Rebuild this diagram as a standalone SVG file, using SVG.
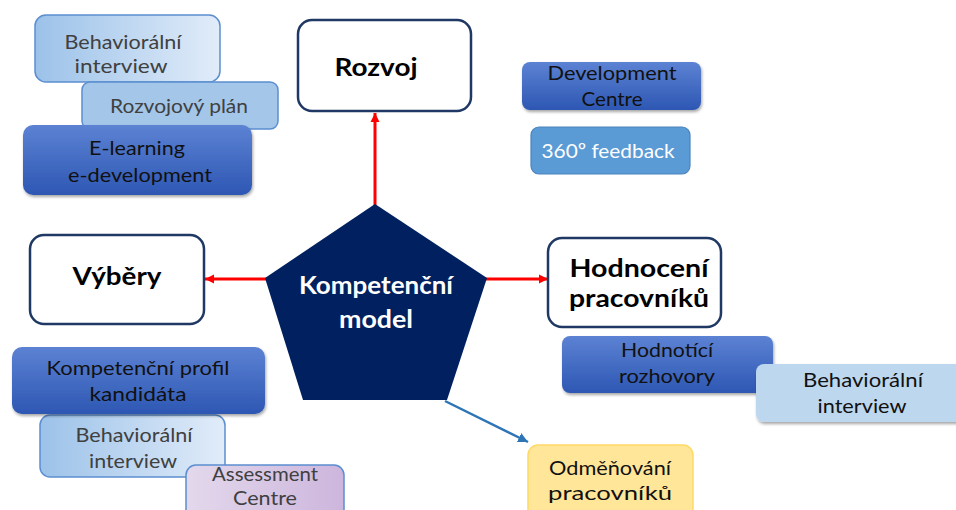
<svg xmlns="http://www.w3.org/2000/svg" width="956" height="510" viewBox="0 0 956 510">
<defs>
<style>
.t{font-family:Lato,"Liberation Sans",sans-serif;font-size:20px;fill:#111;text-anchor:middle}
.g{fill:#404040}
.w{fill:#fff}
.b{font-family:Lato,"Liberation Sans",sans-serif;font-size:24px;font-weight:bold;fill:#000;text-anchor:middle}
.pw{fill:#fff}
.wb{fill:#fff;stroke:#1F3864;stroke-width:2.5}
.db{fill:url(#gBlue);filter:url(#sh)}
.red{stroke:#FF0000;stroke-width:3;fill:none;marker-end:url(#aRed)}
.blu{stroke:#2E75B6;stroke-width:2.5;fill:none;marker-end:url(#aBlue)}
</style>
<linearGradient id="gBlue" x1="0" y1="0" x2="0" y2="1">
<stop offset="0" stop-color="#5C82D3"/><stop offset="1" stop-color="#2D57B3"/>
</linearGradient>
<linearGradient id="gLight" x1="0" y1="0" x2="1" y2="0">
<stop offset="0" stop-color="#9CC2E9"/><stop offset="1" stop-color="#E1ECF9"/>
</linearGradient>
<linearGradient id="gLav" x1="0" y1="0" x2="1" y2="0">
<stop offset="0" stop-color="#E3D8EC"/><stop offset="1" stop-color="#CDB6DD"/>
</linearGradient>
<filter id="sh" x="-10%" y="-10%" width="120%" height="130%">
<feDropShadow dx="1" dy="2" stdDeviation="1.5" flood-color="#000" flood-opacity="0.35"/>
</filter>
<marker id="aRed" viewBox="0 0 10 10" refX="10" refY="5" markerWidth="9" markerHeight="10" markerUnits="userSpaceOnUse" orient="auto">
<path d="M0,0 L10,5 L0,10 z" fill="#FF0000"/>
</marker>
<marker id="aBlue" viewBox="0 0 10 10" refX="10" refY="5" markerWidth="10" markerHeight="10" markerUnits="userSpaceOnUse" orient="auto">
<path d="M0,0 L10,5 L0,10 z" fill="#2E75B6"/>
</marker>
</defs>
<rect width="956" height="510" fill="#fff"/>

<g id="connectors">
<line class="red" x1="375" y1="206" x2="375" y2="113"/>
<line class="red" x1="266" y1="279" x2="205" y2="279"/>
<line class="red" x1="486" y1="279" x2="548" y2="279"/>
<line class="blu" x1="445" y1="401" x2="528" y2="442"/>
</g>

<g id="behavioralni-tl">
<rect x="35" y="15" width="185" height="67" rx="11" fill="url(#gLight)" stroke="#5B8ED0" stroke-width="1.5"/>
<text class="t g" x="123" y="49" textLength="117" lengthAdjust="spacingAndGlyphs">Behaviorální</text>
<text class="t g" x="121" y="73" textLength="93" lengthAdjust="spacingAndGlyphs">interview</text>
</g>
<g id="rozvojovy-plan">
<rect x="82" y="82" width="196" height="47" rx="8" fill="#A3C6E9" stroke="#5B8ED0" stroke-width="1.5"/>
<text class="t g" x="179" y="113" textLength="138" lengthAdjust="spacingAndGlyphs">Rozvojový plán</text>
</g>
<g id="e-learning">
<rect class="db" x="23" y="125" width="229" height="70" rx="10"/>
<text class="t" x="137" y="155" textLength="96" lengthAdjust="spacingAndGlyphs">E-learning</text>
<text class="t" x="140" y="182" textLength="144" lengthAdjust="spacingAndGlyphs">e-development</text>
</g>

<g id="rozvoj">
<rect class="wb" x="298" y="20" width="173" height="91" rx="14"/>
<text class="b" x="376" y="76" textLength="83" lengthAdjust="spacingAndGlyphs">Rozvoj</text>
</g>

<g id="development-centre">
<rect class="db" x="522" y="62" width="179" height="48" rx="8"/>
<text class="t" x="612" y="80" textLength="129" lengthAdjust="spacingAndGlyphs">Development</text>
<text class="t" x="612" y="106" textLength="61" lengthAdjust="spacingAndGlyphs">Centre</text>
</g>
<g id="feedback-360">
<rect x="531" y="127" width="159" height="47" rx="8" fill="#5B9BD5" stroke="#4A84BE" stroke-width="1.2"/>
<text class="t w" x="608" y="158" textLength="133" lengthAdjust="spacingAndGlyphs">360º feedback</text>
</g>

<g id="vybery">
<rect class="wb" x="30" y="235" width="174" height="89" rx="14"/>
<text class="b" x="117" y="285" textLength="89" lengthAdjust="spacingAndGlyphs">Výběry</text>
</g>

<g id="kompetencni-model">
<polygon points="375,204 487,278 447,400 303,400 265,278" fill="#002060"/>
<text class="b pw" x="376" y="294" textLength="154" lengthAdjust="spacingAndGlyphs">Kompetenční</text>
<text class="b pw" x="376" y="328" textLength="74" lengthAdjust="spacingAndGlyphs">model</text>
</g>

<g id="hodnoceni">
<rect class="wb" x="548" y="238" width="173" height="89" rx="14"/>
<text class="b" x="639" y="277" textLength="139" lengthAdjust="spacingAndGlyphs">Hodnocení</text>
<text class="b" x="639" y="307" textLength="140" lengthAdjust="spacingAndGlyphs">pracovníků</text>
</g>
<g id="hodnotici-rozhovory">
<rect class="db" x="562" y="336" width="211" height="57" rx="8"/>
<text class="t" x="667" y="357" textLength="92" lengthAdjust="spacingAndGlyphs">Hodnotící</text>
<text class="t" x="667" y="383" textLength="96" lengthAdjust="spacingAndGlyphs">rozhovory</text>
</g>
<g id="behavioralni-r">
<rect x="756" y="364" width="210" height="58" rx="8" fill="#BDD7EE" filter="url(#sh)"/>
<text class="t" x="863" y="387" textLength="120" lengthAdjust="spacingAndGlyphs">Behaviorální</text>
<text class="t" x="862" y="413" textLength="89" lengthAdjust="spacingAndGlyphs">interview</text>
</g>

<g id="behavioralni-bl">
<rect x="40" y="415" width="185" height="62" rx="10" fill="url(#gLight)" stroke="#5B8ED0" stroke-width="1.5"/>
<text class="t g" x="134" y="442" textLength="117" lengthAdjust="spacingAndGlyphs">Behaviorální</text>
<text class="t g" x="133" y="468" textLength="88" lengthAdjust="spacingAndGlyphs">interview</text>
</g>
<g id="kompetencni-profil">
<rect class="db" x="12" y="347" width="253" height="67" rx="10"/>
<text class="t" x="138" y="375" textLength="183" lengthAdjust="spacingAndGlyphs">Kompetenční profil</text>
<text class="t" x="138" y="401" textLength="97" lengthAdjust="spacingAndGlyphs">kandidáta</text>
</g>
<g id="assessment-centre">
<rect x="186" y="465" width="158" height="60" rx="10" fill="url(#gLav)" stroke="#5B8ED0" stroke-width="1.5"/>
<text class="t g" x="265" y="481" textLength="106" lengthAdjust="spacingAndGlyphs">Assessment</text>
<text class="t g" x="265" y="505" textLength="64" lengthAdjust="spacingAndGlyphs">Centre</text>
</g>

<g id="odmenovani">
<rect x="528" y="445" width="165" height="75" rx="10" fill="#FFE699" stroke="#FFD966" stroke-width="1.5"/>
<text class="t" x="610" y="475" textLength="122" lengthAdjust="spacingAndGlyphs">Odměňování</text>
<text class="t" x="610" y="500" textLength="124" lengthAdjust="spacingAndGlyphs">pracovníků</text>
</g>
</svg>
